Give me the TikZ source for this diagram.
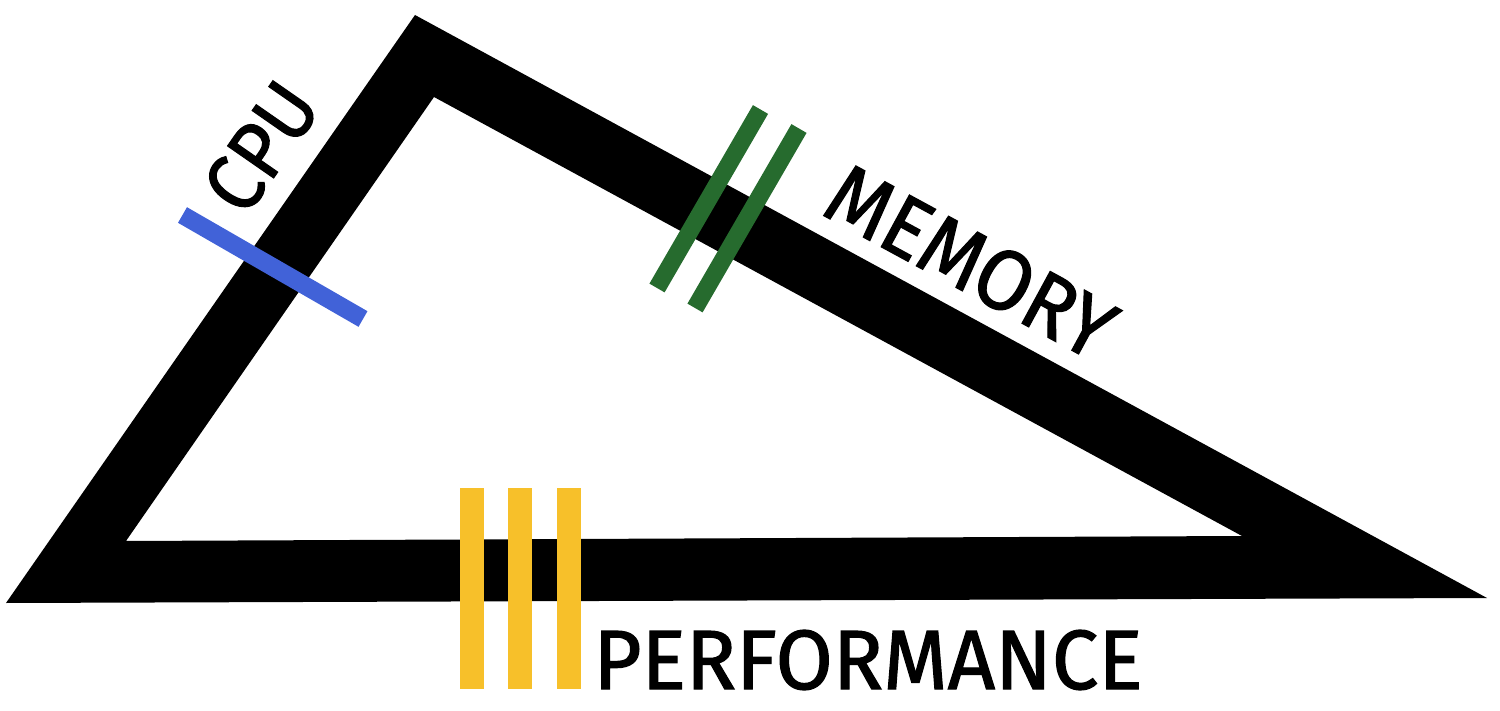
\documentclass[tikz,border=0pt]{standalone}
\usepackage{fontspec}
\setmainfont{Fira Sans}
\newfontfamily\lblfont{Fira Sans}[FakeBold=1.4]
\usepackage{graphicx}
\definecolor{cpublue}{RGB}{65,98,216}
\definecolor{memgreen}{RGB}{38,107,46}
\definecolor{perfyellow}{RGB}{247,192,42}
\begin{document}
\begin{tikzpicture}[x=1pt,y=-1pt,
  txtlabel/.style={inner sep=0pt, outer sep=0pt, anchor=center, text=black, font=\lblfont},
  barline/.style={line width=#1, line cap=butt}]
\useasboundingbox (0,0) rectangle (1500,711);
% triangle frame
\fill[black, even odd rule] (415,15) -- (1487,598) -- (6,603) -- cycle
                            (434,97) -- (1242,536) -- (126,541) -- cycle;
% CPU bar
\draw[cpublue, barline=18pt] (182.5,215) -- (363,319);
% memory bars
\draw[memgreen, barline=17.5pt] (760.5,109.5) -- (657,288);
\draw[memgreen, barline=17.5pt] (799,128.5) -- (695,308);
% performance bars
\fill[perfyellow] (460,488) rectangle (484,689);
\fill[perfyellow] (508.3,488) rectangle (532.3,689);
\fill[perfyellow] (556.7,488) rectangle (580.7,689);
% labels
\node[txtlabel, rotate=55.2] (cpu) at (261,147) {\resizebox{136pt}{57pt}{CPU}};
\node[txtlabel, rotate=-28.5] (memory) at (971,262) {\resizebox{313pt}{60pt}{MEMORY}};
\node[txtlabel] (performance) at (868,660) {\resizebox{549pt}{59pt}{PERFORMANCE}};
\end{tikzpicture}
\end{document}
